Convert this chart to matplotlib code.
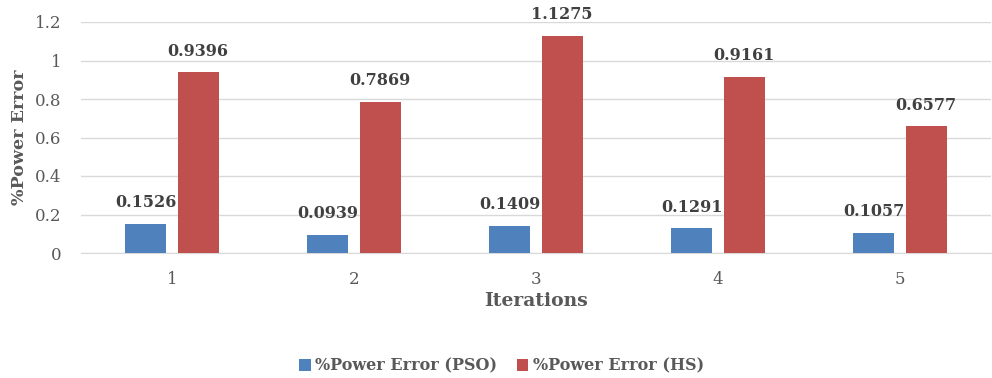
import numpy as np
import matplotlib.pyplot as plt

# data
iterations = ["1", "2", "3", "4", "5"]
pso_error = [0.1526, 0.0939, 0.1409, 0.1291, 0.1057]
hs_error = [0.9396, 0.7869, 1.1275, 0.9161, 0.6577]
y_ticks = [0, 0.2, 0.4, 0.6, 0.8, 1.0, 1.2]

grey = "#595959"
plt.rcParams['font.family'] = ['DejaVu Serif']

fig = plt.figure(figsize=(9.92, 3.78), dpi=100)
ax = fig.add_axes([81 / 992, 125 / 378, 910 / 992, 231 / 378])

x = np.arange(len(iterations))
w = 0.225
off = 0.143
b1 = ax.bar(x - off, pso_error, w, color="#4F81BD", label="%Power Error (PSO)", zorder=3)
b2 = ax.bar(x + off, hs_error, w, color="#C0504D", label="%Power Error (HS)", zorder=3)

for bars, vals in ((b1, pso_error), (b2, hs_error)):
    for bar, v in zip(bars, vals):
        ax.annotate("{:.4f}".format(v), (bar.get_x() + bar.get_width() / 2, v),
                    xytext=(0, 9), textcoords="offset points", ha="center", va="bottom",
                    fontsize=11.5, fontweight="bold", color="#404040")

ax.set_xlim(-0.5, len(iterations) - 0.5)
ax.set_ylim(0, 1.2)
ax.set_xticks(x)
ax.set_xticklabels(iterations)
ax.set_yticks(y_ticks)
ax.set_yticklabels(["{:g}".format(t) for t in y_ticks])
ax.tick_params(axis="both", length=0, labelsize=12, colors=grey)
ax.tick_params(axis="x", pad=13)
ax.tick_params(axis="y", pad=14)

ax.grid(axis="y", color="#D9D9D9", linewidth=1, zorder=0)
for s in ("top", "right", "left"):
    ax.spines[s].set_visible(False)
ax.spines["bottom"].set_color("#D9D9D9")

ax.set_xlabel("Iterations", fontsize=13.5, fontweight="bold", color=grey, labelpad=3)
ax.set_ylabel("%Power Error", fontsize=12.6, fontweight="bold", color=grey, labelpad=5)

fig.legend(handles=[b1, b2], loc="center", bbox_to_anchor=(0.5056, 12 / 378), ncol=2,
           frameon=False, prop={"size": 11.5, "weight": "bold"}, labelcolor=grey,
           handlelength=0.7, handleheight=0.7, handletextpad=0.3, columnspacing=1.2)

fig.savefig("out.png", dpi=100)
